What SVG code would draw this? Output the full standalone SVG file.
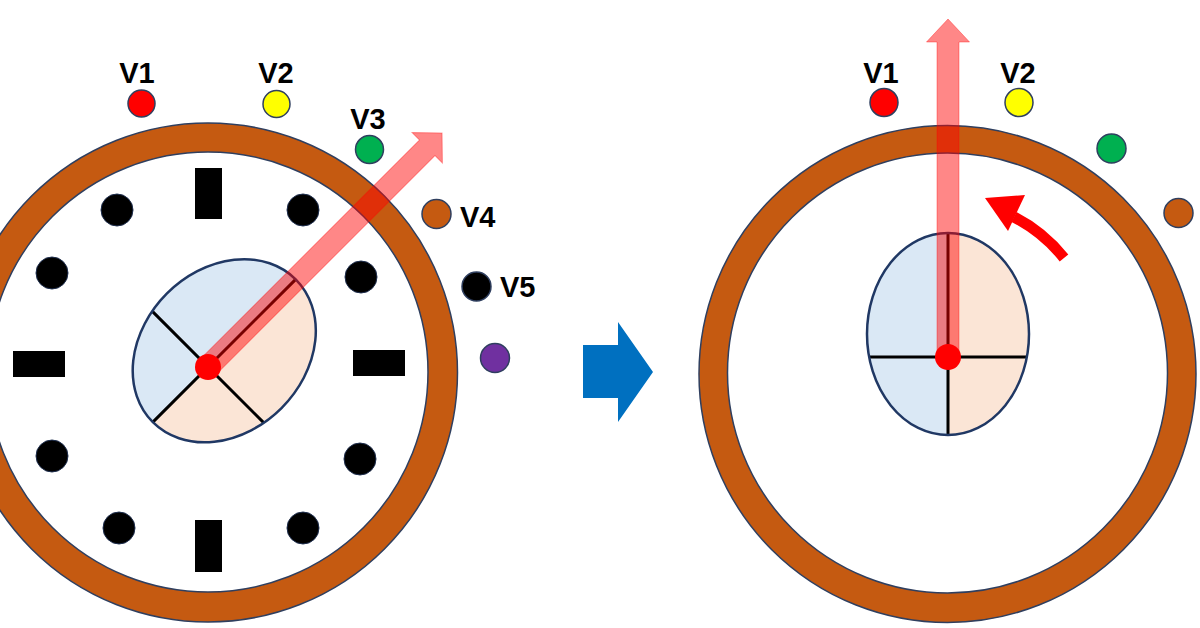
<svg xmlns="http://www.w3.org/2000/svg" xmlns:xlink="http://www.w3.org/1999/xlink" width="1200" height="628" viewBox="0 0 1200 628">
  <style>
    .lbl { font-family: "Liberation Sans", Arial, sans-serif; font-weight: bold; font-size: 29px; fill: #000; }
    .ringO { fill: #C55A11; stroke: #2F3F5F; stroke-width: 1.5; }
    .ringI { fill: #FFFFFF; stroke: #2F3F5F; stroke-width: 1.5; }
    .tick { fill: #000; }
    .mark { fill: #000; stroke: #1F2F4F; stroke-width: 1; }
    .sat { stroke: #2F3F5F; stroke-width: 1.5; }
    .ptr { fill: #FF0000; fill-opacity: 0.47; stroke: #FF0000; stroke-opacity: 0.35; stroke-width: 1; }
    .hub { fill: #FF0000; }
  </style>
  <defs>
    <g id="dial">
      <path d="M0,-124 A81,101 0 0 0 0,78 Z" fill="#DAE8F5"/>
      <path d="M0,-124 A81,101 0 0 1 0,78 Z" fill="#FBE5D6"/>
      <path d="M-79,0 H79 M0,-124 V78" stroke="#000" stroke-width="3" fill="none"/>
      <ellipse cx="0" cy="-23" rx="81" ry="101" fill="none" stroke="#203864" stroke-width="2.5"/>
    </g>
  </defs>

  <rect width="1200" height="628" fill="#FFFFFF"/>

  <!-- LEFT PANEL -->
  <g id="left-clock">
    <g id="left-ring">
      <circle class="ringO" cx="208" cy="372.5" r="249.5"/>
      <circle class="ringI" cx="208" cy="372" r="220"/>
    </g>
    <g id="left-ticks">
      <rect class="tick" x="195" y="168" width="27" height="51"/>
      <rect class="tick" x="195" y="520" width="27" height="52"/>
      <rect class="tick" x="13" y="351" width="52" height="26"/>
      <rect class="tick" x="353" y="350" width="52" height="26"/>
      <circle class="mark" cx="117" cy="210" r="16"/>
      <circle class="mark" cx="303" cy="210" r="16"/>
      <circle class="mark" cx="52" cy="273" r="16"/>
      <circle class="mark" cx="361" cy="277" r="16"/>
      <circle class="mark" cx="52" cy="456" r="16"/>
      <circle class="mark" cx="360" cy="459" r="16"/>
      <circle class="mark" cx="119" cy="528" r="16"/>
      <circle class="mark" cx="303" cy="528" r="16"/>
    </g>
    <g id="left-dial" transform="translate(208,367) rotate(45)">
      <use xlink:href="#dial" href="#dial"/>
    </g>
    <g id="left-pointer" transform="translate(208,367) rotate(45)">
      <polygon class="ptr" points="-11,0 -11,-310 -21.5,-310 0,-331 21.5,-310 11,-310 11,0"/>
    </g>
    <circle id="left-hub" class="hub" cx="208" cy="367" r="13"/>

    <g id="left-V1">
      <text class="lbl" x="137" y="83" text-anchor="middle">V1</text>
      <circle class="sat" cx="141.5" cy="103.5" r="13.5" fill="#FF0000"/>
    </g>
    <g id="left-V2">
      <text class="lbl" x="276" y="83" text-anchor="middle">V2</text>
      <circle class="sat" cx="276.5" cy="104" r="13.5" fill="#FFFF00"/>
    </g>
    <g id="left-V3">
      <text class="lbl" x="368" y="129" text-anchor="middle">V3</text>
      <circle class="sat" cx="369.5" cy="149.5" r="14" fill="#00B050"/>
    </g>
    <g id="left-V4">
      <circle class="sat" cx="436.5" cy="214" r="14.5" fill="#C55A11"/>
      <text class="lbl" x="460" y="227">V4</text>
    </g>
    <g id="left-V5">
      <circle class="sat" cx="476.5" cy="286.5" r="14.5" fill="#000000"/>
      <text class="lbl" x="500" y="297">V5</text>
    </g>
    <g id="left-V6">
      <circle class="sat" cx="495" cy="358" r="14.5" fill="#7030A0"/>
    </g>
  </g>

  <!-- TRANSITION ARROW -->
  <g id="transition-arrow">
    <polygon points="583,345 618,345 618,322 653,372 618,422 618,398 583,398" fill="#0070C0"/>
  </g>

  <!-- RIGHT PANEL -->
  <g id="right-clock">
    <g id="right-ring">
      <circle class="ringO" cx="947.5" cy="374" r="248.5"/>
      <circle class="ringI" cx="947.5" cy="373" r="220"/>
    </g>
    <g id="right-dial" transform="translate(948,357)">
      <use xlink:href="#dial" href="#dial"/>
    </g>
    <g id="right-pointer" transform="translate(948,357)">
      <polygon class="ptr" points="-11,0 -11,-315 -21.5,-315 0,-338 21.5,-315 11,-315 11,0"/>
    </g>
    <circle id="right-hub" class="hub" cx="948" cy="357" r="13"/>

    <g id="rotation-arrow">
      <path d="M1064,258 A155,155 0 0 0 1014,217" fill="none" stroke="#FF0000" stroke-width="11"/>
      <polygon points="985,198 1025,195 1008,231" fill="#FF0000"/>
    </g>

    <g id="right-V1">
      <text class="lbl" x="881" y="83" text-anchor="middle">V1</text>
      <circle class="sat" cx="884" cy="102.5" r="14" fill="#FF0000"/>
    </g>
    <g id="right-V2">
      <text class="lbl" x="1018" y="83" text-anchor="middle">V2</text>
      <circle class="sat" cx="1019" cy="102.5" r="14" fill="#FFFF00"/>
    </g>
    <g id="right-V3">
      <circle class="sat" cx="1111.5" cy="148.5" r="14.5" fill="#00B050"/>
    </g>
    <g id="right-V4">
      <circle class="sat" cx="1178.5" cy="213" r="14.5" fill="#C55A11"/>
    </g>
  </g>
</svg>
